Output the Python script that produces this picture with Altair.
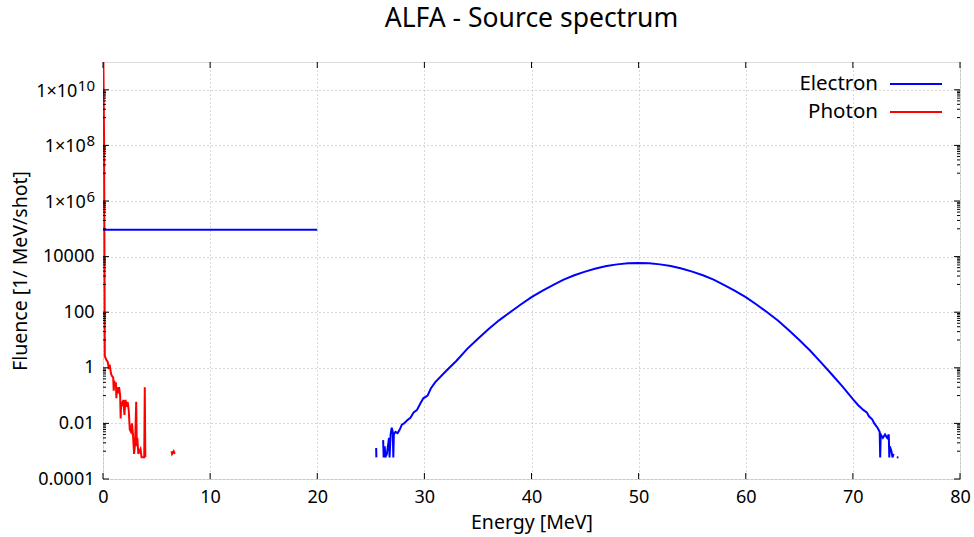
import altair as alt
import pandas as pd

FONT = "Noto Sans"
W, H = 857, 417

# ---------------- data ----------------
x_tick_values = [0, 10, 20, 30, 40, 50, 60, 70, 80]
y_tick_values = [1e-4, 1e-2, 1, 1e2, 1e4, 1e6, 1e8, 1e10]
y_tick_labels = ["0.0001", "0.01", "1", "100", "10000", "1×10^6", "1×10^8", "1×10^10"]
y_minor_decades = [-3, -1, 1, 3, 5, 7, 9]

series_names = ["Electron", "Photon"]
series_colors = ["#0000ff", "#ff0000"]

electron_energy = [
    0.0, 20.0, None,
    25.50, 25.52, None,
    26.15, 26.20, 26.30, 26.35, 26.50, 26.70, 26.75, 26.85, 26.95, 27.05,
    27.10, 27.15, 27.30, 27.50, 27.70, 27.90, 28.10, 28.40, 28.70, 29.00,
    29.30, 29.60, 29.90, 30.30, 30.60,
    31, 32, 33, 34, 35, 36, 37, 38, 39, 40,
    41, 42, 43, 44, 45, 46, 47, 48, 49, 50,
    51, 52, 53, 54, 55, 56, 57, 58, 59, 60,
    61, 62, 63, 64, 65, 66, 67, 68, 69, 70,
    70.5, 71.0, 71.3, 71.5, 71.8, 72.0, 72.3, 72.5, 72.55, 72.6,
    72.8, 73.0, 73.2, 73.35, 73.4, 73.45, 73.6, 73.7, 73.8, None,
    74.1, 74.25,
]
electron_fluence = [
    9.3e4, 9.3e4, None,
    1.3e-3, 6e-4, None,
    2.5e-3, 6e-4, 1.5e-3, 6e-4, 8e-4, 3e-3, 6e-4, 4e-3, 7e-3, 5e-3,
    6e-4, 4e-3, 5e-3, 4.5e-3, 6e-3, 9e-3, 1e-2, 1.3e-2, 1.6e-2, 2.5e-2,
    3e-2, 5e-2, 8e-2, 1e-1, 1.8e-1,
    0.3, 0.75, 1.8, 4.8, 11, 25, 52, 100, 190, 350,
    590, 950, 1480, 2140, 2880, 3720, 4570, 5250, 5750, 5900,
    5750, 5250, 4570, 3720, 2880, 2140, 1480, 950, 590, 350,
    190, 100, 50, 23, 10, 4.2, 1.6, 0.6, 0.22, 0.075,
    0.045, 0.03, 0.025, 0.018, 0.014, 0.01, 0.007, 0.005, 6e-4, 4e-3,
    3e-3, 4e-3, 3e-3, 4e-3, 6e-4, 1.5e-3, 1e-3, 6e-4, 8e-4, None,
    6e-4, 6e-4,
]

photon_energy = [
    0.02, 0.10, 0.17, 0.30, 0.45, 0.55, 0.62, 0.75, 0.85, 0.95,
    1.00, 1.05, 1.10, 1.20, 1.25, 1.30, 1.40, 1.50, 1.60, 1.65,
    1.70, 1.80, 1.90, 2.00, 2.10, 2.20, 2.30, 2.40, 2.50, 2.60,
    2.70, 2.80, 2.90, 3.00, 3.10, 3.15, 3.20, 3.30, 3.40, 3.50,
    3.60, 3.70, 3.85, 3.90, 3.95, None,
    6.40, 6.45, 6.60, 6.70,
]
photon_fluence = [
    5e11, 1.5e8, 2.6, 2.0, 1.6, 0.9, 1.3, 0.6, 0.5, 0.45,
    0.15, 0.35, 0.2, 0.3, 0.08, 0.2, 0.12, 0.2, 0.1, 0.015,
    0.06, 0.05, 0.07, 0.02, 0.07, 0.04, 0.06, 0.03, 0.006, 0.005,
    0.01, 0.004, 0.0008, 0.002, 0.06, 0.0015, 0.003, 0.0008, 0.001, 0.0012,
    0.0006, 0.0006, 0.0006, 0.2, 0.0006, None,
    0.001, 0.0008, 0.001, 0.0008,
]


def build(energy, fluence, name):
    rows, seg = [], 0
    for e, f in zip(energy, fluence):
        if e is None or f is None:
            seg += 1
            continue
        rows.append({"energy": e, "fluence": f, "seg": f"{name}-{seg}",
                     "series": name, "idx": len(rows)})
    return pd.DataFrame(rows)


df_e = build(electron_energy, electron_fluence, "Electron")
df_p = build(photon_energy, photon_fluence, "Photon")

# ---------------- scales / axes ----------------
x_scale = alt.Scale(domain=[0, 80], nice=False, zero=False)
y_scale = alt.Scale(type="log", domain=[1e-4, 1e11], nice=False)

# plain labels go through the axis; "1×10^n" labels are drawn as text with a real superscript
label_expr = ""
for v, lab in zip(y_tick_values[:-1], y_tick_labels[:-1]):
    shown = "" if "^" in lab else lab
    label_expr += f"datum.value < {v * 3.16} ? '{shown}' : "
last = y_tick_labels[-1]
label_expr += "''" if "^" in last else f"'{last}'"

LABEL_SIZE = 18
grid_style = dict(grid=True, gridDash=[1, 3], gridColor="#b0b0b0", gridWidth=1,
                  domain=False, ticks=False, labelFont=FONT, labelFontSize=LABEL_SIZE,
                  labelColor="black", titleFont=FONT, titleFontSize=19.5,
                  titleFontWeight="normal", titleColor="black")

x_axis = alt.Axis(values=x_tick_values, labelPadding=9, titlePadding=7,
                  labelFlush=False, **grid_style)
y_axis = alt.Axis(values=y_tick_values, labelExpr=label_expr, labelPadding=9,
                  titlePadding=7, labelFlush=False, **grid_style)

X = alt.X("energy:Q", scale=x_scale, axis=x_axis, title="Energy [MeV]")
Y = alt.Y("fluence:Q", scale=y_scale, axis=y_axis, title="Fluence [1/ MeV/shot]")

photon_line = alt.Chart(df_p).mark_line(
    color=series_colors[1], strokeWidth=2, clip=True, strokeJoin="miter"
).encode(x=X, y=Y, detail="seg:N", order="idx:Q")

electron_line = alt.Chart(df_e).mark_line(
    color=series_colors[0], strokeWidth=2, clip=True, strokeJoin="miter"
).encode(x=X, y=Y, detail="seg:N", order="idx:Q")

# ---------------- superscript tick labels ----------------
EXP_SIZE = 15
sup_layers = []
for v, lab in zip(y_tick_values, y_tick_labels):
    if "^" not in lab:
        continue
    base, expo = lab.split("^")
    exp_w = 0.572 * EXP_SIZE * len(expo)
    d = pd.DataFrame({"fluence": [v], "base": [base], "expo": [expo]})
    sup_layers.append(alt.Chart(d).mark_text(
        align="right", baseline="middle", font=FONT, fontSize=LABEL_SIZE,
        color="black", dy=2).encode(y=Y, x=alt.value(-8.5 - exp_w), text="base:N"))
    sup_layers.append(alt.Chart(d).mark_text(
        align="right", baseline="middle", font=FONT, fontSize=EXP_SIZE,
        color="black", dy=-4).encode(y=Y, x=alt.value(-8), text="expo:N"))

# ---------------- inward ticks (gnuplot style) ----------------
df_xt = pd.DataFrame({"energy": x_tick_values})
df_yt = pd.DataFrame({"fluence": y_tick_values})
df_ym = pd.DataFrame({"fluence": [k * 10.0 ** d for d in y_minor_decades for k in range(1, 10)]})

tick_layers = [
    alt.Chart(df_xt).mark_rule(color="black", strokeWidth=1).encode(
        x=X, y=alt.value(H), y2=alt.value(H - 6)),
    alt.Chart(df_xt).mark_rule(color="black", strokeWidth=1).encode(
        x=X, y=alt.value(0), y2=alt.value(6)),
    alt.Chart(df_yt).mark_rule(color="black", strokeWidth=1).encode(
        y=Y, x=alt.value(0), x2=alt.value(6)),
    alt.Chart(df_yt).mark_rule(color="black", strokeWidth=1).encode(
        y=Y, x=alt.value(W - 6), x2=alt.value(W)),
    alt.Chart(df_ym).mark_rule(color="black", strokeWidth=1, clip=True).encode(
        y=Y, x=alt.value(0), x2=alt.value(3)),
    alt.Chart(df_ym).mark_rule(color="black", strokeWidth=1, clip=True).encode(
        y=Y, x=alt.value(W - 3), x2=alt.value(W)),
]

# ---------------- legend (gnuplot style, key top right) ----------------
legend_layers = []
for i, (name, col) in enumerate(zip(series_names, series_colors)):
    ly = 22 + 28 * i
    legend_layers.append(
        alt.Chart(pd.DataFrame({"name": [name]})).mark_text(
            align="right", baseline="middle", font=FONT, fontSize=20.5, color="black"
        ).encode(text="name:N", x=alt.value(775), y=alt.value(ly)))
    legend_layers.append(
        alt.Chart(pd.DataFrame({"name": [name]})).mark_rule(
            color=col, strokeWidth=2
        ).encode(x=alt.value(787), x2=alt.value(839), y=alt.value(ly)))

chart = alt.layer(photon_line, electron_line, *tick_layers, *sup_layers,
                  *legend_layers).properties(
    width=W, height=H,
    title=alt.TitleParams("ALFA - Source spectrum", font=FONT, fontSize=26.5,
                          fontWeight="normal", color="black", anchor="middle", offset=29),
    padding={"left": 103, "top": 62, "right": 14, "bottom": 58},
    autosize=alt.AutoSizeParams(type="none"),
).configure_view(stroke="black", strokeWidth=1).configure(background="white")

chart.save("out.html", embed_options={"renderer": "svg", "actions": False})
